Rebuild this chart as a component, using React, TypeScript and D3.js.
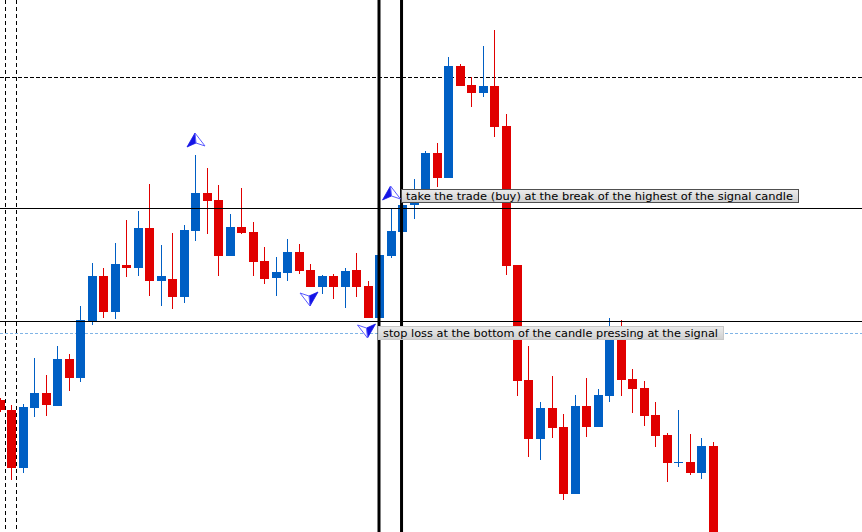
import React from "react";
import * as d3 from "d3";

const W = 862;
const H = 532;

// OHLC, candle index 0..62
const opens = [1.3200,1.3190,1.3132,1.3192,1.3207,1.3194,1.3241,1.3222,1.3279,1.3324,1.3288,1.3335,1.3332,1.3372,1.3319,1.3321,1.3303,1.3369,1.3407,1.3400,1.3344,1.3373,1.3368,1.3339,1.3322,1.3327,1.3348,1.3330,1.3313,1.3324,1.3313,1.3330,1.3314,1.3282,1.3344,1.3368,1.3395,1.3409,1.3447,1.3422,1.3534,1.3515,1.3507,1.3514,1.3474,1.3335,1.3220,1.3161,1.3192,1.3173,1.3106,1.3194,1.3173,1.3204,1.3265,1.3221,1.3212,1.3185,1.3165,1.3137,1.3138,1.3127,1.3154];
const highs = [1.3202,1.3195,1.3196,1.3242,1.3225,1.3254,1.3246,1.3294,1.3337,1.3332,1.3357,1.3380,1.3389,1.3416,1.3355,1.3367,1.3375,1.3445,1.3432,1.3415,1.3386,1.3412,1.3378,1.3353,1.3343,1.3361,1.3356,1.3336,1.3325,1.3326,1.3332,1.3347,1.3319,1.3345,1.3392,1.3397,1.3421,1.3449,1.3457,1.3543,1.3536,1.3523,1.3554,1.3570,1.3486,1.3335,1.3254,1.3198,1.3224,1.3186,1.3205,1.3222,1.3211,1.3282,1.3280,1.3231,1.3219,1.3198,1.3167,1.3190,1.3166,1.3162,1.3158];
const lows = [1.3188,1.3120,1.3127,1.3183,1.3184,1.3194,1.3209,1.3218,1.3275,1.3282,1.3281,1.3323,1.3324,1.3304,1.3294,1.3291,1.3297,1.3359,1.3366,1.3324,1.3344,1.3366,1.3324,1.3316,1.3304,1.3319,1.3326,1.3313,1.3306,1.3301,1.3292,1.3303,1.3282,1.3280,1.3342,1.3366,1.3381,1.3407,1.3413,1.3422,1.3514,1.3493,1.3503,1.3463,1.3325,1.3204,1.3143,1.3140,1.3162,1.3100,1.3106,1.3163,1.3173,1.3198,1.3204,1.3187,1.3174,1.3153,1.3118,1.3133,1.3125,1.3121,1.3060];
const closes = [1.3190,1.3132,1.3193,1.3207,1.3195,1.3241,1.3222,1.3280,1.3324,1.3288,1.3336,1.3332,1.3372,1.3319,1.3324,1.3303,1.3370,1.3407,1.3399,1.3344,1.3373,1.3367,1.3338,1.3321,1.3328,1.3348,1.3329,1.3313,1.3324,1.3313,1.3329,1.3313,1.3282,1.3345,1.3369,1.3395,1.3399,1.3447,1.3422,1.3534,1.3514,1.3507,1.3514,1.3473,1.3334,1.3219,1.3161,1.3192,1.3172,1.3106,1.3194,1.3173,1.3205,1.3268,1.3220,1.3211,1.3184,1.3164,1.3137,1.3138,1.3127,1.3154,1.3060];

// horizontal levels
const solidLevels = [1.3392, 1.3279];
const dashedBlackLevels = [1.3523];
const dashedBlueLevels = [1.3267];
// vertical markers (candle index units)
const separatorIdx = [0.48, 1.44];
const signalIdx = [33, 34.96];

// arrows: [candle index, tip price]
const upArrows = [[17, 1.3467], [34, 1.3414]];
const downArrows = [[27, 1.3294], [32, 1.3262]];

const labels = [
  { text: "take the trade (buy) at the break of the highest of the signal candle", idx: 34.96, price: 1.3411, boxW: 397, textW: 387, border: true },
  { text: "stop loss at the bottom of the candle pressing at the signal", idx: 33, price: 1.3274, boxW: 345, textW: 335, border: false },
];

const BULL = "#005fc4";
const BEAR = "#e00000";

export default function App() {
  const x = d3.scaleLinear().domain([0, 75]).range([-0.5, 862]);
  const y = d3.scaleLinear().domain([1.3068, 1.36]).range([H, 0]);
  const bw = 8;

  const upPath = "M0,0 L-8,14 L1,10 Z";
  const upPathR = "M0,0 L1,10 L10,13 Z";

  return (
    <svg width={W} height={H} style={{ position: "absolute", left: 0, top: 0, display: "block", background: "#fff" }}>
      <rect x={0} y={0} width={W} height={H} fill="#fff" />
      {separatorIdx.map((s, i) => (
        <line key={"sep" + i} x1={Math.round(x(s)) + 0.5} x2={Math.round(x(s)) + 0.5} y1={0} y2={H} stroke="#000" strokeDasharray="4,3" />
      ))}
      {dashedBlackLevels.map((p, i) => (
        <line key={"db" + i} x1={0} x2={W} y1={Math.round(y(p)) + 0.5} y2={Math.round(y(p)) + 0.5} stroke="#000" strokeDasharray="4,2" />
      ))}
      {dashedBlueLevels.map((p, i) => (
        <line key={"dbl" + i} x1={0} x2={W} y1={Math.round(y(p)) + 0.5} y2={Math.round(y(p)) + 0.5} stroke="#80b4e6" strokeDasharray="3,2" />
      ))}
      {opens.map((o, i) => {
        const c = closes[i];
        const col = c >= o ? BULL : BEAR;
        const cx = Math.round(x(i));
        const top = Math.round(y(Math.max(o, c)));
        const bot = Math.round(y(Math.min(o, c)));
        return (
          <g key={"c" + i} shapeRendering="crispEdges">
            <rect x={cx} y={Math.round(y(highs[i]))} width={1} height={Math.max(1, Math.round(y(lows[i])) - Math.round(y(highs[i])))} fill={col} />
            <rect x={cx - bw / 2} y={top} width={bw + 1} height={Math.max(1, bot - top)} fill={col} />
          </g>
        );
      })}
      {solidLevels.map((p, i) => (
        <line key={"sl" + i} x1={0} x2={W} y1={Math.round(y(p)) + 0.5} y2={Math.round(y(p)) + 0.5} stroke="#000" strokeWidth={1} />
      ))}
      {signalIdx.map((s, i) => (
        <rect key={"sig" + i} x={x(s) - 1.5} y={0} width={3} height={H} fill="#000" />
      ))}
      {upArrows.map(([idx, p], i) => (
        <g key={"ua" + i} transform={`translate(${x(idx)},${y(p)})`}>
          <path d={upPath} fill="#1414e6" stroke="#1414e6" strokeWidth={0.8} />
          <path d={upPathR} fill="#fff" stroke="#5a5aff" strokeWidth={1} />
        </g>
      ))}
      {downArrows.map(([idx, p], i) => (
        <g key={"da" + i} transform={`translate(${x(idx)},${y(p)}) rotate(180)`}>
          <path d={upPath} fill="#1414e6" stroke="#1414e6" strokeWidth={0.8} />
          <path d={upPathR} fill="#fff" stroke="#5a5aff" strokeWidth={1} />
        </g>
      ))}
      <defs>
        <linearGradient id="lblg" x1="0" y1="0" x2="0" y2="1">
          <stop offset="0" stopColor="#ececec" />
          <stop offset="1" stopColor="#cfcfcf" />
        </linearGradient>
      </defs>
      {labels.map((l, i) => {
        const lx = Math.round(x(l.idx)) - 1;
        const ly = Math.round(y(l.price));
        return (
          <g key={"lb" + i}>
            <rect x={lx + 0.5} y={ly + 0.5} width={l.boxW} height={13} fill="url(#lblg)" stroke={l.border ? "#505050" : "#c8c8c8"} />
            <text x={lx + 5} y={ly + 11} fontFamily="'DejaVu Sans', Verdana, sans-serif" fontSize={11} fill="#000" textLength={l.textW} lengthAdjust="spacingAndGlyphs">
              {l.text}
            </text>
          </g>
        );
      })}
    </svg>
  );
}
